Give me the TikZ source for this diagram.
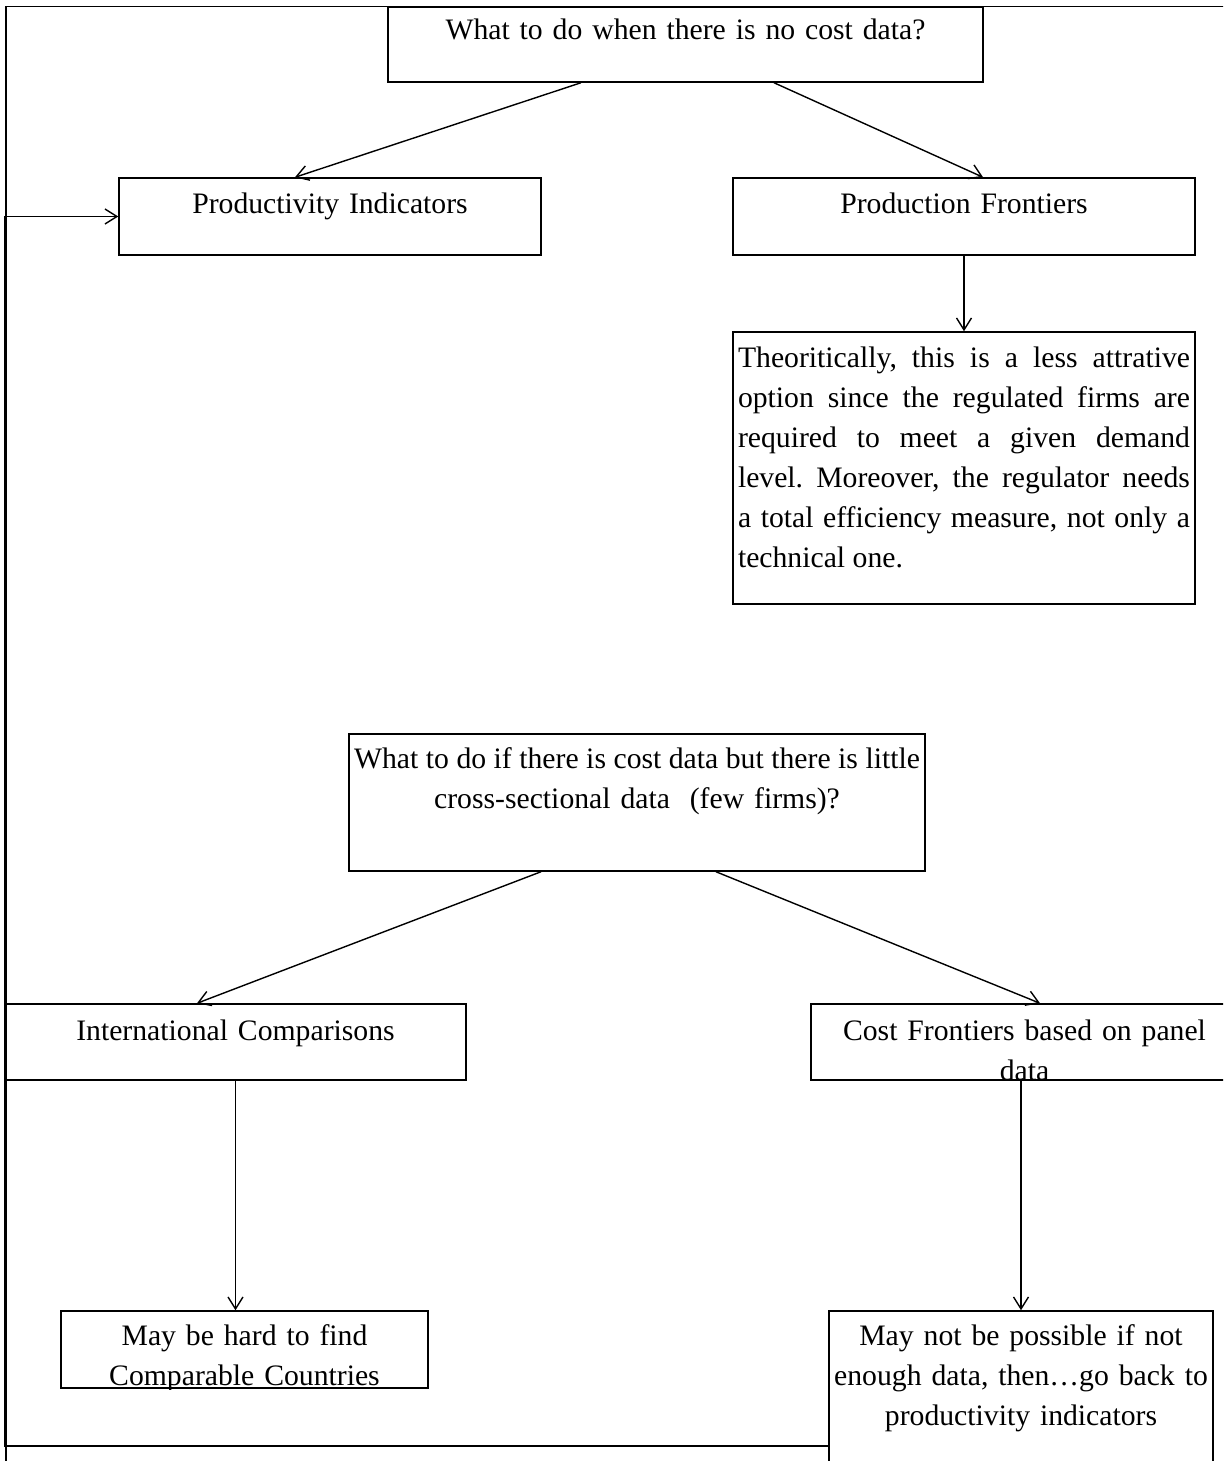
\documentclass[tikz,border=0pt]{standalone}
\usepackage{fontspec}
\setmainfont{Liberation Serif}
\usetikzlibrary{arrows.meta}

\begin{document}
\begin{tikzpicture}[
    x=1pt, y=-1pt,
    >={Straight Barb[length=12pt,width=15pt]},
    box/.style={rectangle, draw=black, line width=1.5pt, inner sep=0pt,
                align=center, font=\fontsize{29.7}{40}\selectfont\frenchspacing},
    flow/.style={->, line width=1.4pt}
]

\useasboundingbox (0,0) rectangle (1223,1461);
\clip (0,0) rectangle (1223,1461);

% Frame
\node[draw, line width=1.5pt, inner sep=0pt, minimum width=1240pt,
      minimum height=1480pt, anchor=north west] (frame) at (5,6) {};

% First question
\node[box, text width=595pt, text height=33pt, text depth=42pt] (q1) at (685.5,44.5)
    {What to do when there is no cost data?};

\node[box, text width=422pt, text height=35pt, text depth=42pt] (pi) at (330,216.5)
    {Productivity Indicators};
\node[box, text width=462pt, text height=35pt, text depth=42pt] (pf) at (964,216.5)
    {Production Frontiers};

\node[box, align=justify, inner xsep=5pt, text width=452pt, text height=35pt,
      text depth=237pt] (theo) at (964,468)
    {Theoritically, this is a less attrative\linebreak
     option since the regulated firms are\linebreak
     required to meet a given demand\linebreak
     level. Moreover, the regulator needs\linebreak
     a total efficiency measure, not only a\linebreak
     technical one.};

% Second question
\node[box, text width=576pt, text height=34pt, text depth=103pt] (q2) at (637,802.5)
    {{\spaceskip=7.5pt What to do if there is cost data but there is little}\\
     cross-sectional data \ (few firms)?};

\node[box, text width=461pt, text height=36pt, text depth=40pt] (ic) at (235.5,1042)
    {International Comparisons};
\node[box, text width=427pt, text height=36pt, text depth=40pt] (cf) at (1024.5,1042)
    {Cost Frontiers based on panel\\data};

\begin{scope}
\clip (58,1308) rectangle (431,1389);
\node[box, text width=367pt, text height=34pt, text depth=43pt] (mb) at (244.5,1349.5)
    {May be hard to find\\Comparable Countries};
\end{scope}

\node[box, text width=384pt, text height=34pt, text depth=135pt] (mnp) at (1021,1395.5)
    {May not be possible if not\\enough data, then…go back to\\productivity indicators};

% Arrows
\draw[flow] ([xshift=-104.5pt]q1.south) -- ([xshift=-35pt]pi.north);
\draw[flow] ([xshift=88.5pt]q1.south) -- ([xshift=19pt]pf.north);
\draw[flow] (pf.south) -- (theo.north);
\draw[flow] ([xshift=-96pt]q2.south) -- ([xshift=-38.5pt]ic.north);
\draw[flow] ([xshift=79pt]q2.south) -- ([xshift=15.5pt]cf.north);
\draw[flow] (ic.south) -- (ic.south |- mb.north);
\draw[flow] (cf.south -| mnp.north) -- (mnp.north);

% Back to productivity indicators
\coordinate (back) at (829,1446);
\draw[flow] (back) -- (back -| frame.west) |- (pi.west);

\end{tikzpicture}
\end{document}
